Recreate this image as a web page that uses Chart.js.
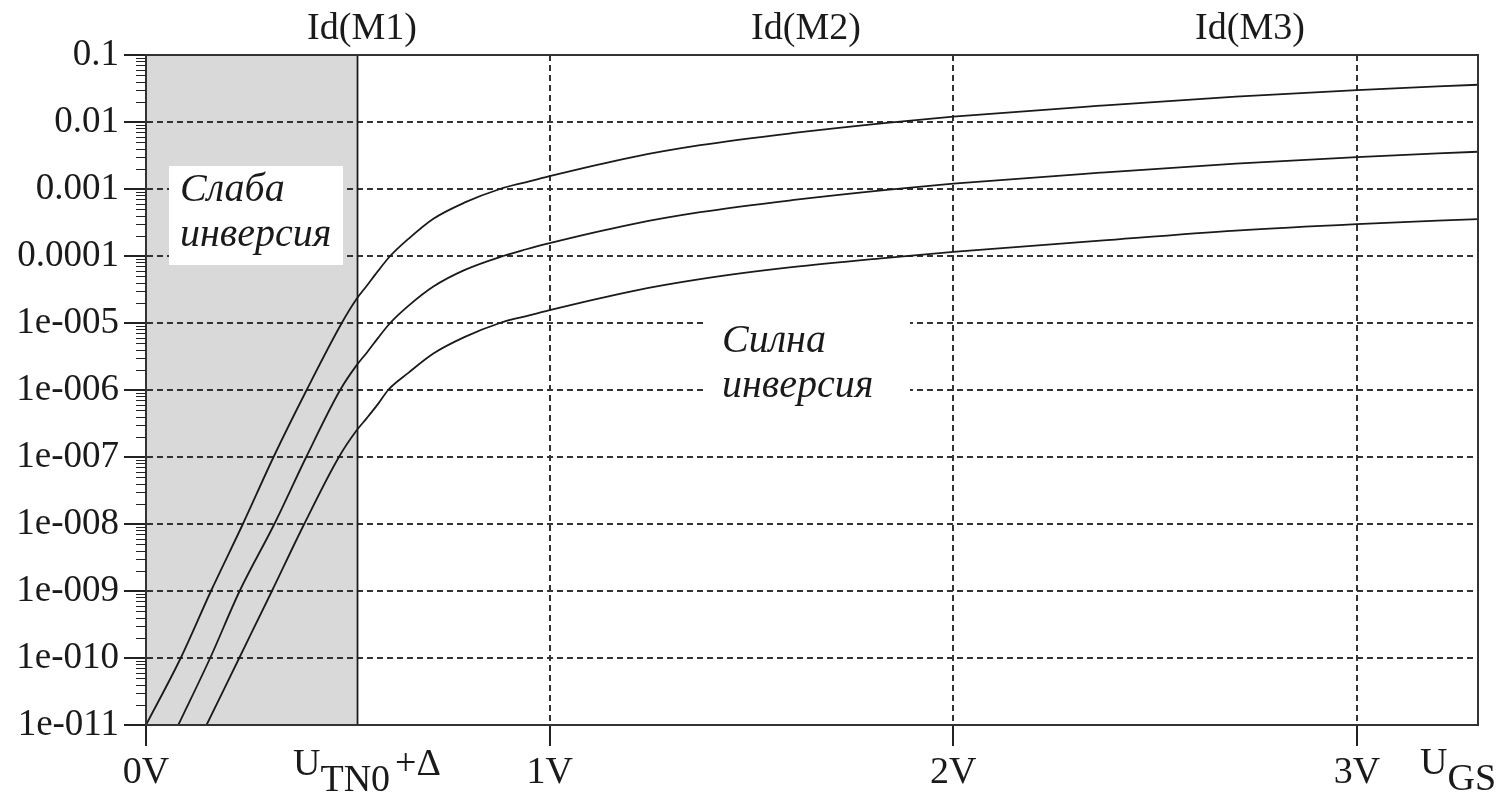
<!DOCTYPE html>
<html>
<head>
<meta charset="utf-8">
<title>Id(UGS)</title>
<script src="https://cdn.jsdelivr.net/npm/chart.js@4.4.1/dist/chart.umd.min.js"></script>
<style>
  html, body { margin: 0; padding: 0; background: #fff; }
  #wrap { width: 1504px; height: 793px; position: relative; }
</style>
</head>
<body>
<div id="wrap"><canvas id="ugs-chart"></canvas></div>
<script>
// Id(UGS) за три транзистора, логаритмична скала
const seriesNames = ['Id(M1)', 'Id(M2)', 'Id(M3)'];

const ugsM1 = [0, 0.086, 0.161, 0.240, 0.316, 0.398, 0.485, 0.522, 0.547, 0.575, 0.605, 0.65, 0.712, 0.79, 0.877, 0.94, 1.0, 1.2, 1.373, 1.6, 1.835, 2.0, 2.364, 2.7, 3.0, 3.3];
const idM1 = [1e-11, 1e-10, 1e-9, 1e-8, 1e-7, 1e-6, 1e-5, 2.3e-5, 3.6e-5, 6e-5, 1e-4, 1.8e-4, 3.6e-4, 6.3e-4, 1e-3, 1.26e-3, 1.56e-3, 2.95e-3, 4.5e-3, 6.8e-3, 9.7e-3, 1.2e-2, 1.75e-2, 2.4e-2, 3.0e-2, 3.6e-2];

const ugsM2 = [0.080, 0.159, 0.232, 0.318, 0.397, 0.481, 0.522, 0.547, 0.575, 0.605, 0.65, 0.712, 0.79, 0.885, 0.94, 1.0, 1.2, 1.373, 1.6, 1.835, 2.0, 2.364, 2.7, 3.0, 3.3];
const idM2 = [1e-11, 1e-10, 1e-9, 1e-8, 1e-7, 1e-6, 2.35e-6, 3.6e-6, 6e-6, 1e-5, 1.8e-5, 3.5e-5, 6.2e-5, 1e-4, 1.25e-4, 1.56e-4, 2.95e-4, 4.5e-4, 6.8e-4, 9.7e-4, 1.2e-3, 1.75e-3, 2.4e-3, 3.0e-3, 3.6e-3];

const ugsM3 = [0.150, 0.231, 0.312, 0.392, 0.478, 0.522, 0.547, 0.575, 0.600, 0.65, 0.712, 0.79, 0.877, 0.94, 1.0, 1.2, 1.373, 1.6, 1.835, 2.0, 2.364, 2.7, 3.0, 3.3];
const idM3 = [1e-11, 1e-10, 1e-9, 1e-8, 1e-7, 2.5e-7, 3.8e-7, 6.2e-7, 1e-6, 1.8e-6, 3.5e-6, 6.2e-6, 1e-5, 1.26e-5, 1.56e-5, 2.95e-5, 4.5e-5, 6.8e-5, 9.4e-5, 1.15e-4, 1.7e-4, 2.4e-4, 3.0e-4, 3.56e-4];

const xTicks = [0, 1, 2, 3];
const xTickLabels = ['0V', '1V', '2V', '3V'];
const yTicks = [1e-11, 1e-10, 1e-9, 1e-8, 1e-7, 1e-6, 1e-5, 1e-4, 1e-3, 1e-2, 1e-1];
const yTickLabels = ['1e-011', '1e-010', '1e-009', '1e-008', '1e-007', '1e-006', '1e-005', '0.0001', '0.001', '0.01', '0.1'];

const weakEnd = 0.522; // U_TN0 + Δ

const serif = '"Liberation Serif", "Times New Roman", serif';
const ink = '#1a1a1a';
const lineInk = '#333';

const toPoints = (xs, ys) => xs.map((v, i) => ({ x: v, y: ys[i] }));
const seriesData = [toPoints(ugsM1, idM1), toPoints(ugsM2, idM2), toPoints(ugsM3, idM3)];

function textBox(ctx, x, y, w, h, lines, tx, baselines) {
  ctx.fillStyle = '#fff';
  ctx.fillRect(x, y, w, h);
  ctx.fillStyle = ink;
  ctx.font = 'italic 40px ' + serif;
  ctx.textAlign = 'left';
  ctx.textBaseline = 'alphabetic';
  lines.forEach((t, i) => ctx.fillText(t, tx, baselines[i]));
}

// subscript label: main, sub, tail
function subLabel(ctx, x, base, main, sub, tail) {
  ctx.font = '38px ' + serif;
  ctx.textAlign = 'left';
  ctx.textBaseline = 'alphabetic';
  ctx.fillText(main, x, base);
  let cx = x + ctx.measureText(main).width;
  ctx.fillText(sub, cx, base + 16);
  cx += ctx.measureText(sub).width + 5;
  if (tail) ctx.fillText(tail, cx, base);
}

const decorPlugin = {
  id: 'decor',
  beforeDraw(chart) {
    const { ctx, chartArea: a, scales: { x } } = chart;
    ctx.save();
    ctx.fillStyle = '#d9d9d9';
    ctx.fillRect(a.left, a.top, x.getPixelForValue(weakEnd) - a.left, a.bottom - a.top);
    ctx.restore();
  },
  beforeDatasetsDraw(chart) {
    const { ctx, chartArea: a, scales: { x } } = chart;
    const xe = Math.round(x.getPixelForValue(weakEnd)) + 0.5;
    ctx.save();
    ctx.strokeStyle = ink;
    ctx.lineWidth = 1.8;
    ctx.beginPath();
    ctx.moveTo(xe, a.top);
    ctx.lineTo(xe, a.bottom);
    ctx.stroke();
    ctx.restore();
  },
  afterDatasetsDraw(chart) {
    const { ctx } = chart;
    ctx.save();
    textBox(ctx, 169, 166, 174, 99, ['Слаба', 'инверсия'], 180, [201, 246]);
    textBox(ctx, 706, 316, 204, 90, ['Силна', 'инверсия'], 722, [352, 397]);
    ctx.restore();
  },
  afterDraw(chart) {
    const { ctx, chartArea: a, scales: { y } } = chart;
    ctx.save();
    // frame
    ctx.strokeStyle = lineInk;
    ctx.lineWidth = 2;
    ctx.strokeRect(a.left, a.top, a.right - a.left, a.bottom - a.top);
    // minor log ticks
    ctx.lineWidth = 1.2;
    ctx.strokeStyle = '#222';
    ctx.beginPath();
    for (let i = 0; i < yTicks.length - 1; i++) {
      for (let m = 2; m <= 9; m++) {
        const py = Math.round(y.getPixelForValue(yTicks[i] * m)) + 0.5;
        ctx.moveTo(a.left - 10, py);
        ctx.lineTo(a.left, py);
      }
    }
    ctx.stroke();
    // trace names along the top
    ctx.fillStyle = ink;
    ctx.font = '38px ' + serif;
    ctx.textAlign = 'center';
    ctx.textBaseline = 'alphabetic';
    seriesNames.forEach((n, i) => ctx.fillText(n, a.left + 216 + i * 444, 39));
    // extra axis texts
    subLabel(ctx, 293, 775, 'U', 'TN0', '+Δ');
    subLabel(ctx, 1420, 774, 'U', 'GS', '');
    ctx.restore();
  }
};

new Chart(document.getElementById('ugs-chart'), {
  type: 'line',
  data: {
    datasets: seriesNames.map((name, i) => ({
      label: name,
      data: seriesData[i],
      borderColor: ink,
      borderWidth: 1.8,
      pointRadius: 0,
      fill: false,
      cubicInterpolationMode: 'monotone'
    }))
  },
  options: {
    responsive: true,
    maintainAspectRatio: false,
    animation: false,
    layout: { padding: { top: 55, right: 26, left: 0, bottom: 0 } },
    plugins: {
      legend: { display: false },
      tooltip: { enabled: false }
    },
    scales: {
      x: {
        type: 'linear',
        min: 0,
        max: 3.3,
        afterBuildTicks: s => { s.ticks = xTicks.map(v => ({ value: v })); },
        afterFit: s => { s.height = 68; },
        ticks: {
          callback: (v, i) => xTickLabels[i],
          color: ink,
          font: { family: serif, size: 38 },
          padding: 4,
          maxRotation: 0,
          autoSkip: false
        },
        grid: {
          color: c => (c.tick && c.tick.value === 0) ? 'rgba(0,0,0,0)' : lineInk,
          lineWidth: 2,
          tickLength: 21,
          tickColor: '#222',
          tickWidth: 2,
          tickBorderDash: []
        },
        border: { display: true, color: lineInk, width: 2, dash: [6, 4] }
      },
      y: {
        type: 'logarithmic',
        min: 1e-11,
        max: 0.1,
        afterBuildTicks: s => { s.ticks = yTicks.map(v => ({ value: v, major: true })); },
        afterFit: s => { s.width = 146; },
        ticks: {
          callback: (v, i) => yTickLabels[i],
          color: ink,
          font: { family: serif, size: 37 },
          padding: 5,
          autoSkip: false
        },
        grid: {
          color: c => (c.tick && (c.index === 0 || c.index === yTicks.length - 1)) ? 'rgba(0,0,0,0)' : lineInk,
          lineWidth: 2,
          tickLength: 22,
          tickColor: '#222',
          tickWidth: 2,
          tickBorderDash: []
        },
        border: { display: true, color: lineInk, width: 2, dash: [6, 4] }
      }
    }
  },
  plugins: [decorPlugin]
});
</script>
</body>
</html>
